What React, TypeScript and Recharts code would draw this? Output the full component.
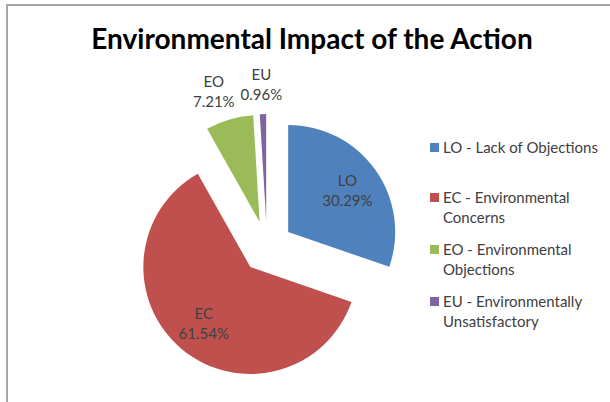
import { Legend, Pie, PieChart, Sector } from "recharts";

const codes = ["LO", "EC", "EO", "EU"];
const legendNames = [
  "LO - Lack of Objections",
  "EC - Environmental Concerns",
  "EO - Environmental Objections",
  "EU - Environmentally Unsatisfactory"
];
const shares = [30.29, 61.54, 7.21, 0.96];
const colors = ["#4F81BD", "#C0504D", "#9BBB59", "#8064A2"];

const data = codes.map((code, i) => ({
  code,
  name: legendNames[i],
  value: shares[i],
  fill: colors[i]
}));

const FONT = "Lato, 'Noto Sans', sans-serif";
const RAD = Math.PI / 180;
const EXPLODE = 26;

function ExplodedSector(props: any) {
  const { cx, cy, midAngle } = props;
  const dx = EXPLODE * Math.cos(-midAngle * RAD);
  const dy = EXPLODE * Math.sin(-midAngle * RAD);
  return <Sector {...props} cx={cx + dx} cy={cy + dy} stroke="none" />;
}

function renderLabel(props: any) {
  const { cx, cy, midAngle, outerRadius, percent, index } = props;
  const inside = percent > 0.2;
  const cos = Math.cos(-midAngle * RAD);
  const sin = Math.sin(-midAngle * RAD);
  const r = inside ? EXPLODE + outerRadius * 0.68 : EXPLODE + outerRadius + 30;
  // outside labels get pushed sideways a bit, like Excel's best-fit
  const x = cx + r * cos + (inside ? 0 : cos * 25);
  const y = cy + r * sin;
  return (
    <text x={x} y={y} textAnchor="middle" fill="#404040" fontFamily={FONT} fontSize={15}>
      <tspan x={x} y={y - 10} dominantBaseline="central">
        {codes[index]}
      </tspan>
      <tspan x={x} y={y + 10} dominantBaseline="central">
        {(percent * 100).toFixed(2)}%
      </tspan>
    </text>
  );
}

function LegendList() {
  return (
    <div style={{ fontFamily: FONT, fontSize: 15, color: "#404040", lineHeight: "20px" }}>
      {data.map((item) => (
        <div
          key={item.code}
          style={{ display: "flex", alignItems: "flex-start", minHeight: 38, marginBottom: 12 }}
        >
          <span
            style={{
              width: 9,
              height: 9,
              marginTop: 6,
              marginRight: 4,
              background: item.fill,
              flexShrink: 0
            }}
          />
          <span style={{ width: 168 }}>{item.name}</span>
        </div>
      ))}
    </div>
  );
}

export default function App() {
  return (
    <div style={{ position: "absolute", left: 0, top: 0, width: 610, height: 402, background: "#fff", overflow: "hidden" }}>
      <div
        style={{
          position: "absolute",
          left: 6,
          top: 4,
          width: 700,
          height: 500,
          borderTop: "2px solid #a6a6a6",
          borderLeft: "2px solid #a6a6a6"
        }}
      />
      <div
        style={{
          position: "absolute",
          left: 0,
          top: 21,
          width: 624,
          textAlign: "center",
          fontFamily: FONT,
          fontWeight: 700,
          fontSize: 28,
          color: "#000",
          lineHeight: "34px"
        }}
      >
        Environmental Impact of the Action
      </div>
      <div style={{ position: "absolute", left: 0, top: 0 }}>
        <PieChart width={610} height={402} margin={{ top: 0, right: 0, bottom: 0, left: 0 }}>
          <Pie
            data={data}
            dataKey="value"
            nameKey="name"
            cx={267}
            cy={247}
            outerRadius={107}
            startAngle={90}
            endAngle={-270}
            shape={ExplodedSector}
            label={renderLabel}
            labelLine={false}
            isAnimationActive={false}
          />
          <Legend
            layout="vertical"
            align="right"
            verticalAlign="top"
            content={<LegendList />}
            wrapperStyle={{ left: 430, top: 137, right: "auto", width: 180 }}
          />
        </PieChart>
      </div>
    </div>
  );
}
